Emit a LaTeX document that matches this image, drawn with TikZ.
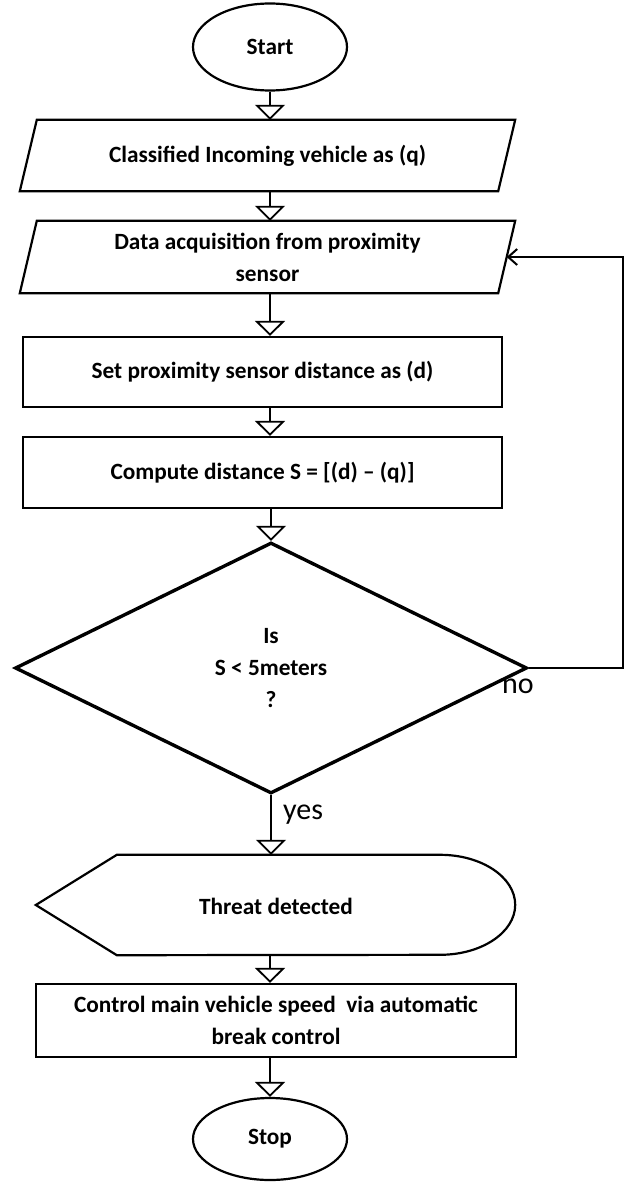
\documentclass[tikz,border=0pt]{standalone}
\usepackage{fontspec}
\setmainfont{Carlito}
\usetikzlibrary{arrows.meta,shapes.geometric}
\begin{document}
\begin{tikzpicture}[x=1pt,y=-1pt,
  every node/.style={font=\bfseries\fontsize{23.3}{32}\selectfont, align=center, inner sep=0pt},
  shp/.style={draw, line width=2.2pt},
  flow/.style={line width=1.8pt, -{Triangle[open, width=30pt, length=15pt, line width=1.8pt]}},
  back/.style={line width=2pt, -{Straight Barb[length=9pt, width=16pt, line width=2pt]}},
  lbl/.style={font=\fontsize{30}{36}\selectfont}
]
\useasboundingbox (0,0) rectangle (625,1185);
% Start
\node[ellipse, shp, minimum width=154pt, minimum height=87pt] (start) at (270,47) {Start};
% parallelogram 1
\node[minimum width=478pt, minimum height=71pt] (p1) at (267.5,155.5) {Classified Incoming vehicle as (q)};
\draw[shp] ([xshift=8.5pt]p1.north west) -- ([xshift=8.5pt]p1.north east) -- ([xshift=-8.5pt]p1.south east) -- ([xshift=-8.5pt]p1.south west) -- cycle;
% parallelogram 2
\node[minimum width=478pt, minimum height=72pt] (p2) at (267.5,257) {Data acquisition from proximity\\sensor};
\draw[shp] ([xshift=8.5pt]p2.north west) -- ([xshift=8.5pt]p2.north east) -- ([xshift=-8.5pt]p2.south east) -- ([xshift=-8.5pt]p2.south west) -- cycle;
% rectangles
\node[rectangle, shp, minimum width=479pt, minimum height=70pt] (r3) at (262.5,372) {Set proximity sensor distance as (d)};
\node[rectangle, shp, minimum width=479pt, minimum height=71pt] (r4) at (262.5,472.5) {Compute distance S = [(d) -- (q)]};
% decision
\node[diamond, draw, line width=3.4pt, minimum width=512pt, minimum height=251pt] (dec) at (271,668) {Is\\S < 5meters\\?};
% threat detected
\node[minimum width=479pt, minimum height=100pt] (thr) at (275.5,905) {};
\node (thrtxt) at (276,906) {Threat detected};
\draw[shp] (thr.west) -- ([xshift=81pt]thr.north west) -- ([xshift=-75pt]thr.north east)
  arc[start angle=90, end angle=-90, x radius=75pt, y radius=50pt]
  -- ([xshift=81pt]thr.south west) -- cycle;
% control
\node[rectangle, shp, minimum width=480pt, minimum height=73pt] (ctl) at (276,1020.5) {Control main vehicle speed\ \ via automatic\\break control};
% stop
\node[ellipse, shp, minimum width=154pt, minimum height=82pt] (stop) at (270,1139) {Stop};
% connectors
\draw[flow] (start.south) -- (start.south |- p1.north);
\draw[flow] (p1.south -| start) -- (p2.north -| start);
\draw[flow] (p2.south -| start) -- (r3.north -| start);
\draw[flow] (r3.south -| start) -- (r4.north -| start);
\draw[flow] (r4.south -| dec) -- (dec.north);
\draw[flow] (dec.south) -- (dec.south |- thr.north);
\draw[flow] (thr.south -| start) -- (ctl.north -| start);
\draw[flow] (ctl.south -| start) -- (stop.north);
\coordinate (fbx) at (623,0);
\draw[back] (dec.east) -- (dec.east -| fbx) -- (fbx |- p2.east) -- (p2.east);
% labels
\node[lbl, anchor=base west] (yes) at (283,819) {yes};
\node[lbl, anchor=base west] (no) at (502,693) {no};
\end{tikzpicture}
\end{document}
